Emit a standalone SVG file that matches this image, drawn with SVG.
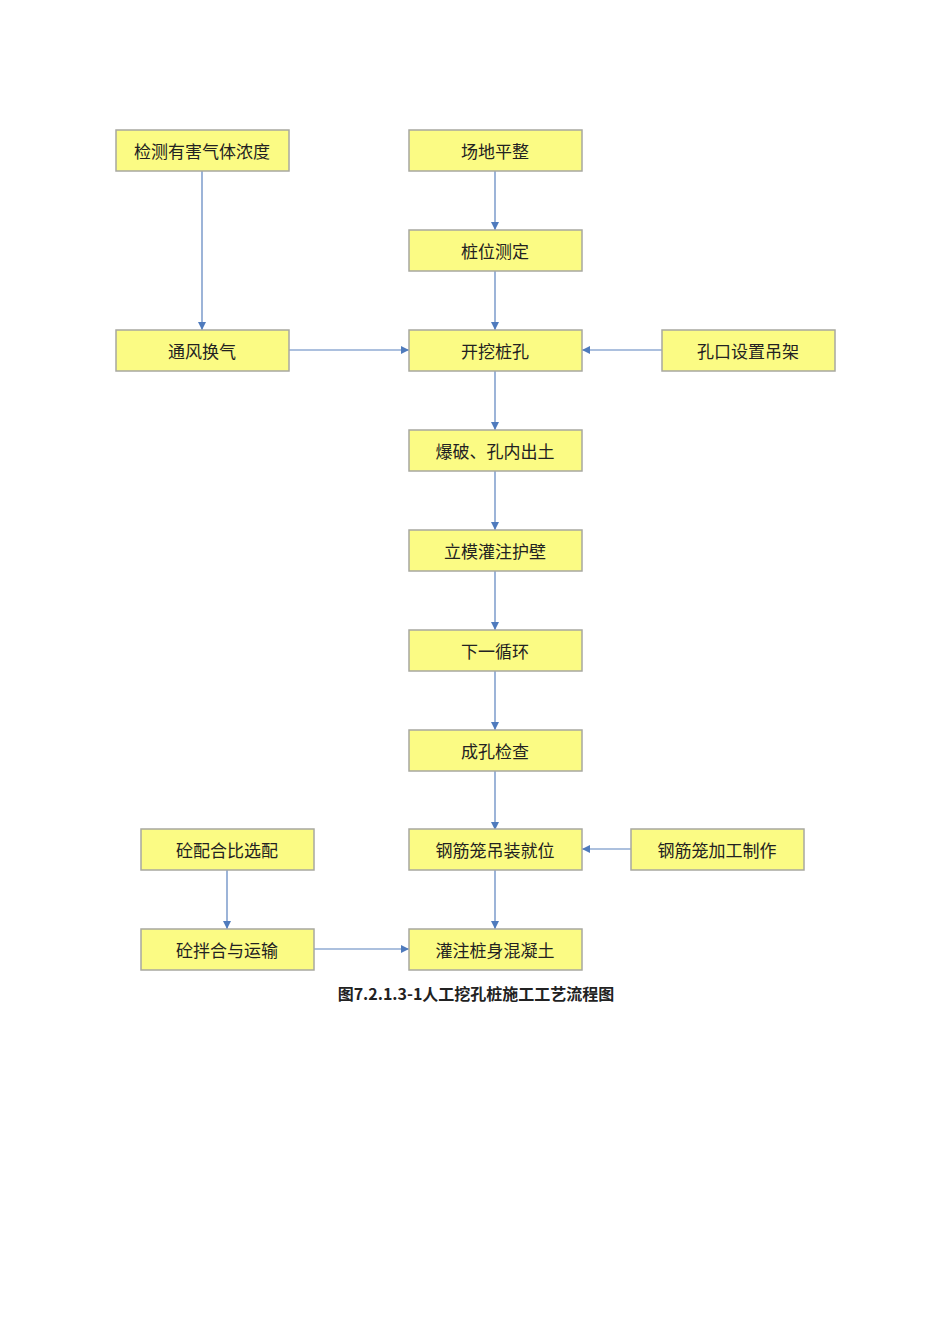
<svg xmlns="http://www.w3.org/2000/svg" width="950" height="1344" viewBox="0 0 950 1344">
<style>
.b{fill:#fbfb84;stroke:#a8a8a0;stroke-width:1.5}
.t{font-family:"Noto Sans CJK SC","Noto Sans",sans-serif;font-size:17px;fill:#222;text-anchor:middle;dominant-baseline:central}
.c{stroke:#5b82be;stroke-width:1.2;fill:none;marker-end:url(#a)}
</style>
<defs><marker id="a" markerWidth="8" markerHeight="8" refX="8" refY="4" orient="auto" markerUnits="userSpaceOnUse"><path d="M0,0L8,4L0,8Z" fill="#4f7bbd"/></marker></defs>
<rect width="950" height="1344" fill="#fff"/>
<g id="connectors">
<path class="c" d="M202,171V330"/>
<path class="c" d="M495,171V230"/>
<path class="c" d="M495,271V330"/>
<path class="c" d="M289,350H409"/>
<path class="c" d="M662,350H582"/>
<path class="c" d="M495,371V430"/>
<path class="c" d="M495,471V530"/>
<path class="c" d="M495,571V630"/>
<path class="c" d="M495,671V730"/>
<path class="c" d="M495,771V830"/>
<path class="c" d="M631,849H582"/>
<path class="c" d="M495,870V929"/>
<path class="c" d="M227,870V929"/>
<path class="c" d="M314,949H409"/>
</g>
<g id="n1"><rect class="b" x="116" y="130" width="173" height="41"/><text class="t" x="202" y="150">检测有害气体浓度</text></g>
<g id="n2"><rect class="b" x="409" y="130" width="173" height="41"/><text class="t" x="495" y="150">场地平整</text></g>
<g id="n3"><rect class="b" x="409" y="230" width="173" height="41"/><text class="t" x="495" y="250">桩位测定</text></g>
<g id="n4"><rect class="b" x="116" y="330" width="173" height="41"/><text class="t" x="202" y="350">通风换气</text></g>
<g id="n5"><rect class="b" x="409" y="330" width="173" height="41"/><text class="t" x="495" y="350">开挖桩孔</text></g>
<g id="n6"><rect class="b" x="662" y="330" width="173" height="41"/><text class="t" x="748" y="350">孔口设置吊架</text></g>
<g id="n7"><rect class="b" x="409" y="430" width="173" height="41"/><text class="t" x="495" y="450">爆破、孔内出土</text></g>
<g id="n8"><rect class="b" x="409" y="530" width="173" height="41"/><text class="t" x="495" y="550">立模灌注护壁</text></g>
<g id="n9"><rect class="b" x="409" y="630" width="173" height="41"/><text class="t" x="495" y="650">下一循环</text></g>
<g id="n10"><rect class="b" x="409" y="730" width="173" height="41"/><text class="t" x="495" y="750">成孔检查</text></g>
<g id="n11"><rect class="b" x="141" y="829" width="173" height="41"/><text class="t" x="227" y="849">砼配合比选配</text></g>
<g id="n12"><rect class="b" x="409" y="829" width="173" height="41"/><text class="t" x="495" y="849">钢筋笼吊装就位</text></g>
<g id="n13"><rect class="b" x="631" y="829" width="173" height="41"/><text class="t" x="717" y="849">钢筋笼加工制作</text></g>
<g id="n14"><rect class="b" x="141" y="929" width="173" height="41"/><text class="t" x="227" y="949">砼拌合与运输</text></g>
<g id="n15"><rect class="b" x="409" y="929" width="173" height="41"/><text class="t" x="495" y="949">灌注桩身混凝土</text></g>
<text class="t" x="476" y="993" style="font-size:16px;font-weight:bold">图7.2.1.3-1人工挖孔桩施工工艺流程图</text>
</svg>
